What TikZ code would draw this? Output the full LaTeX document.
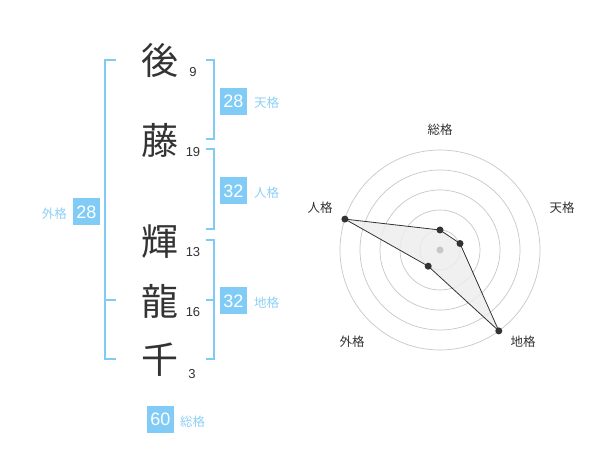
\documentclass[tikz,border=0pt]{standalone}
\usepackage{fontspec}
\setmainfont{Liberation Sans}
\newfontfamily\cjk{Noto Sans CJK JP}
\definecolor{brk}{HTML}{7FCBF4}
\definecolor{boxc}{HTML}{80CCF7}
\definecolor{lblc}{HTML}{8DD0F5}
\definecolor{ink}{HTML}{333333}
\tikzset{
  kanji/.style={font=\cjk\fontsize{37}{40}\selectfont, text=ink, inner sep=0pt},
  strokes/.style={font=\fontsize{13}{14}\selectfont, text=ink, inner sep=0pt},
  badge/.style={fill=boxc, text=white, font=\fontsize{18}{20}\selectfont, minimum width=27pt, minimum height=27pt, inner sep=0pt},
  blabel/.style={font=\cjk\fontsize{12.5}{13}\selectfont, text=lblc, inner sep=0pt},
  bracket/.style={draw=brk, line width=1.6pt},
  ring/.style={draw=black!22, line width=0.7pt},
  rlabel/.style={font=\cjk\fontsize{12.5}{13}\selectfont, text=ink, inner sep=0pt},
  dot/.style={circle, fill=ink, inner sep=0pt, minimum size=7pt},
  poly/.style={draw=ink, line width=0.8pt, fill=black!7, fill opacity=0.85},
}
\begin{document}
\begin{tikzpicture}[x=1pt,y=-1pt]
\useasboundingbox (0,0) rectangle (600,470);
% characters
\node[kanji] (k1) at (160,60) {後};
\node[kanji] (k2) at (160,140) {藤};
\node[kanji] (k3) at (160,242) {輝};
\node[kanji] (k4) at (160,301) {龍};
\node[kanji] (k5) at (160,360) {千};
\node[strokes] (s1) at (193,72) {9};
\node[strokes] (s2) at (193,152) {19};
\node[strokes] (s3) at (193,252) {13};
\node[strokes] (s4) at (193,312) {16};
\node[strokes] (s5) at (192,374) {3};
% brackets
\draw[bracket] (116,60) -- (105,60) -- (105,359) -- (116,359);
\draw[bracket] (105,300) -- (116,300);
\draw[bracket] (206,60) -- (214,60) -- (214,139) -- (206,139);
\draw[bracket] (206,149) -- (214,149) -- (214,229) -- (206,229);
\draw[bracket] (206,240) -- (214,240) -- (214,359) -- (206,359);
\draw[bracket] (206,300) -- (214,300);
% badges
\node[badge] (b1) at (233.5,101.5) {28};
\node[blabel, anchor=west] (l1) at (254,103) {天格};
\node[badge] (b2) at (233.5,191) {32};
\node[blabel, anchor=west] (l2) at (254,193) {人格};
\node[badge] (b3) at (233.5,301) {32};
\node[blabel, anchor=west] (l3) at (254,303) {地格};
\node[badge] (b4) at (86.5,212) {28};
\node[blabel, anchor=east] (l4) at (67,214) {外格};
\node[badge] (b5) at (160.5,419.5) {60};
\node[blabel, anchor=west] (l5) at (180,422) {総格};
% radar
\coordinate (c) at (440,250);
\foreach \r in {20,40,60,80,100} \draw[ring] (c) circle (\r);
\coordinate (p1) at (440,230);
\coordinate (p2) at (460,243.5);
\coordinate (p3) at (498.8,330.9);
\coordinate (p4) at (428.2,266.2);
\coordinate (p5) at (344.9,219.1);
\path[poly] (p1) -- (p2) -- (p3) -- (p4) -- (p5) -- cycle;
\fill[black!22] (c) circle (3.5);
\foreach \p in {p1,p2,p3,p4,p5} \node[dot] at (\p) {};
\node[rlabel] (r1) at (440,130) {総格};
\node[rlabel] (r2) at (562,208) {天格};
\node[rlabel] (r3) at (523,342) {地格};
\node[rlabel] (r4) at (352,342) {外格};
\node[rlabel] (r5) at (320,208) {人格};
\end{tikzpicture}
\end{document}
